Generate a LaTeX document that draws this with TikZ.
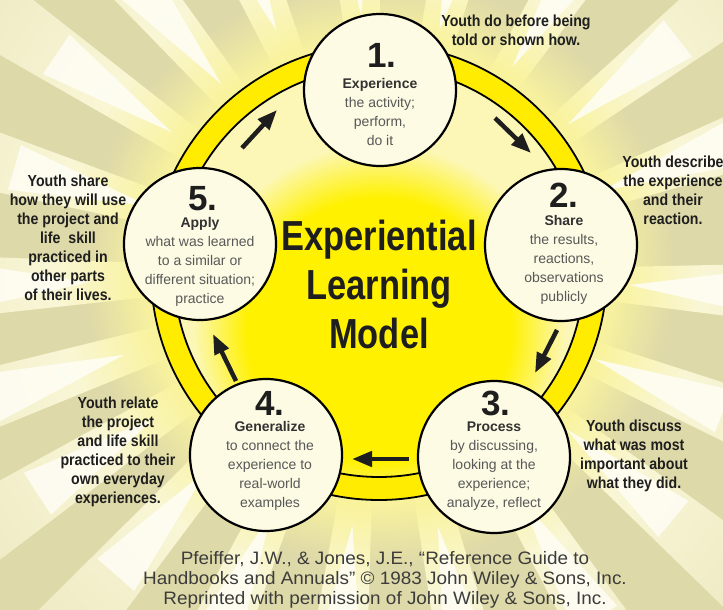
\documentclass[tikz,border=0pt]{standalone}
\usepackage{fontspec}
\setmainfont{Liberation Sans}
\usetikzlibrary{arrows.meta}

\definecolor{khaki}{RGB}{222,217,168}
\definecolor{glowyellow}{RGB}{249,243,158}
\definecolor{raypale}{RGB}{249,246,214}
\definecolor{raydim}{RGB}{238,234,196}
\definecolor{spikewhite}{RGB}{254,253,243}
\definecolor{ringyellow}{RGB}{255,236,0}
\definecolor{discbright}{RGB}{255,241,0}
\definecolor{discpale}{RGB}{252,247,182}
\definecolor{cream}{RGB}{253,251,228}
\definecolor{ink}{RGB}{30,30,30}
\definecolor{labelgray}{RGB}{50,50,50}
\definecolor{bodygray}{RGB}{88,88,88}
\definecolor{citegray}{RGB}{60,60,60}

\pgfdeclareradialshading{glowshade}{\pgfpointorigin}{color(0bp)=(glowyellow); color(13.6bp)=(glowyellow); color(17.5bp)=(khaki); color(50bp)=(khaki)}
\pgfdeclareradialshading{rayshade}{\pgfpointorigin}{color(0bp)=(glowyellow); color(10.5bp)=(glowyellow); color(14.5bp)=(raypale); color(22bp)=(raydim); color(50bp)=(raydim)}
\pgfdeclareradialshading{discshade}{\pgfpointorigin}{color(0bp)=(discbright); color(11bp)=(discbright); color(15.5bp)=(discpale); color(50bp)=(discpale)}

% multi-line nodes sit on the baseline of their last line
\tikzset{
  stage/.style={circle, draw=black, line width=2.2pt, fill=cream, minimum size=152pt, inner sep=0pt},
  num/.style={anchor=base, inner sep=0pt, text=ink, font=\fontsize{35}{35}\selectfont\bfseries},
  body/.style={anchor=base, align=center, inner sep=0pt, text=bodygray, font=\fontsize{14}{19}\selectfont},
  note/.style={anchor=base, align=center, inner sep=0pt, text=ink, xscale=.885, font=\fontsize{16}{19}\selectfont\bfseries},
  headline/.style={anchor=base, align=center, inner sep=0pt, text=ink, xscale=.82, font=\fontsize{42}{49}\selectfont\bfseries},
  cite/.style={anchor=base, align=center, inner sep=0pt, text=citegray, xscale=1.05, font=\fontsize{18}{20}\selectfont},
  flow/.style={draw=ink, line width=4.5pt, -{Triangle[length=20pt,width=15pt]}},
  ring/.style={draw=black, line width=1.8pt, fill=ringyellow, even odd rule},
  spike/.style={fill=spikewhite, opacity=.9},
}

\newcommand{\lbl}[1]{\textcolor{labelgray}{\bfseries #1}}

\begin{document}
\begin{tikzpicture}[x=1pt,y=-1pt]
        \useasboundingbox (0,0) rectangle (723,610);
        \clip (0,0) rectangle (723,610);
        \fill[khaki] (0,0) rectangle (723,610);

        \coordinate (hub) at (379,272);

        % sunburst behind the wheel
        \shade[shading=glowshade] (hub) circle (420);
        \begin{scope}[shift={(hub)}]
        \shade[shading=rayshade] (-560,-560) (560,560)
            \foreach \a in {-164,-146,-130,-113,-94,-76,-57,-38,-20,3,22,40,58,77,96,114,131,147,162,178}
            {(0,0) -- (\a-4.2:560) -- (\a+4.2:560) -- cycle};
        \fill[spike]
            \foreach \a/\r in {-164/240,-146/250,-130/245,-113/262,-94/258,-76/250,-57/245,-38/240,-20/238,3/250,
                               22/232,40/245,58/270,77/262,96/255,114/265,131/262,147/268,162/268,178/290}
            {(\a:\r) -- (\a-3.5:{\r+140}) -- (\a+3.5:{\r+140}) -- cycle};
        \end{scope}

        \begin{scope}
        \clip (hub) circle (205);
        \shade[shading=discshade] (379,330) circle (300);
        \end{scope}
        \draw[ring] (hub) circle (228) (hub) circle (205);

        \coordinate (f1a) at (495,118); \coordinate (f1b) at (531,153);
        \coordinate (f2a) at (557,330); \coordinate (f2b) at (535,373);
        \coordinate (f3a) at (409,459); \coordinate (f3b) at (352,459);
        \coordinate (f4a) at (236,381); \coordinate (f4b) at (213,334);
        \coordinate (f5a) at (242,148); \coordinate (f5b) at (277,110);
        \draw[flow] (f1a) -- (f1b);
        \draw[flow] (f2a) -- (f2b);
        \draw[flow] (f3a) -- (f3b);
        \draw[flow] (f4a) -- (f4b);
        \draw[flow] (f5a) -- (f5b);

        \node[stage] (s1) at (380,90) {};
        \node[stage] (s2) at (561,245) {};
        \node[stage] (s3) at (494,457) {};
        \node[stage] (s4) at (266,455) {};
        \node[stage] (s5) at (200,244) {};

        \node[num] (n1) at (382,67) {1.};
        \node[num] (n2) at (564,207) {2.};
        \node[num] (n3) at (496,415) {3.};
        \node[num] (n4) at (270,415) {4.};
        \node[num] (n5) at (203,210) {5.};

        \node[body] (b1) at (380,145) {\lbl{Experience}\\the activity;\\perform,\\do it};
        \node[body] (b2) at (564,301) {\lbl{Share}\\the results,\\reactions,\\observations\\publicly};
        \node[body] (b3) at (494,507) {\lbl{Process}\\by discussing,\\looking at the\\experience;\\analyze, reflect};
        \node[body] (b4) at (270,507) {\lbl{Generalize}\\to connect the\\experience to\\real-world\\examples};
        \node[body] (b5) at (200,303) {\lbl{Apply}\\what was learned\\to a similar or\\different situation;\\practice};

        \node[headline] (title) at (379,348) {Experiential\\Learning\\Model};

        \node[note] (d1) at (516,46) {Youth do before being\\told or shown how.};
        \node[note] (d2) at (673,224) {Youth describe\\the experience\\and their\\reaction.};
        \node[note] (d3) at (634,488) {Youth discuss\\what was most\\important about\\what they did.};
        \node[note] (d4) at (118,503) {Youth relate\\the project\\and life skill\\practiced to their\\own everyday\\experiences.};
        \node[note] (d5) at (68,300) {Youth share\\how they will use\\the project and\\life\ \ skill\\practiced in\\other parts\\of their lives.};

        \node[cite] (src) at (385,604) {Pfeiffer, J.W., \& Jones, J.E., “Reference Guide to\\Handbooks and Annuals” © 1983 John Wiley \& Sons, Inc.\\Reprinted with permission of John Wiley \& Sons, Inc.};
\end{tikzpicture}
\end{document}
